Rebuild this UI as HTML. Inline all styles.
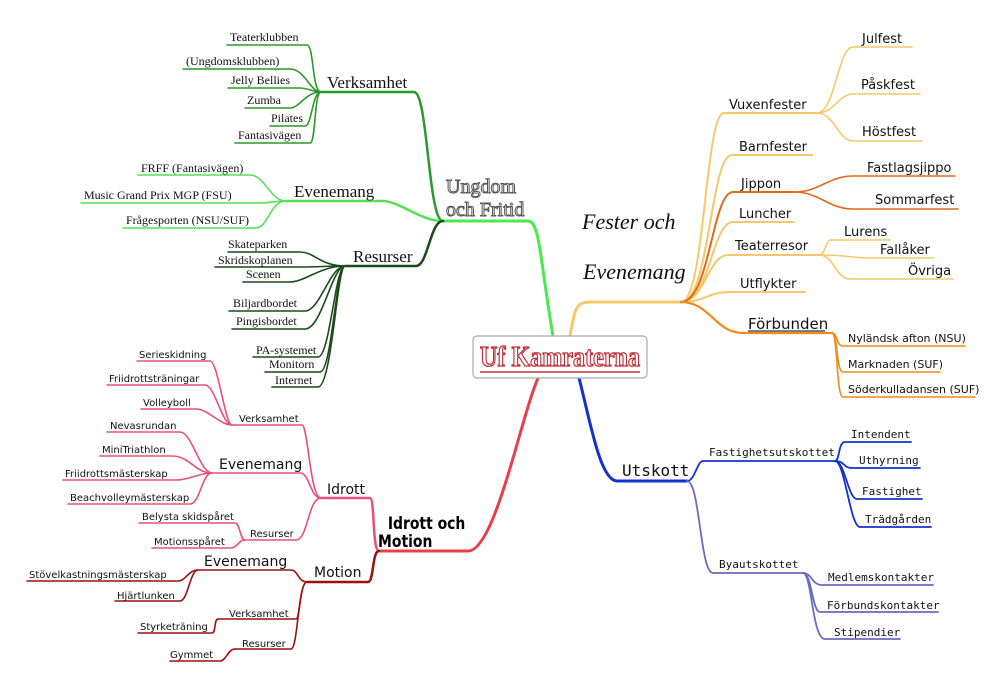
<!DOCTYPE html>
<html><head><meta charset="utf-8"><style>
html,body{margin:0;padding:0;background:#fff;}
svg{display:block}
.serif{font-family:"Liberation Serif",serif;}
.sans{font-family:"DejaVu Sans","Liberation Sans",sans-serif;}
.mono{font-family:"DejaVu Sans Mono","Liberation Mono",monospace;}
path{fill:none;stroke-linecap:round}
</style></head><body>
<svg width="1000" height="687" viewBox="0 0 1000 687" xmlns="http://www.w3.org/2000/svg">
<!-- GREEN -->
<g>
<path d="M553,336 C540,260 540,221 528,221 L443,221" stroke="#4de84d" stroke-width="3"/>
<path d="M443,221 C428,221 428,92 414,92 L321,92" stroke="#2a9a2a" stroke-width="2.5"/>
<g stroke="#2a9a2a" stroke-width="1.6">
<path d="M321,92 C312,92 314,45 307,45 L227,45"/>
<path d="M321,92 C310,92 305,69 290,69 L183,69"/>
<path d="M321,92 C312,92 308,88 300,88 L228,88"/>
<path d="M321,92 C305,92 300,108 290,108 L245,108"/>
<path d="M321,92 C312,92 312,126 305,126 L270,126"/>
<path d="M321,92 C314,92 316,143 310,143 L235,143"/>
</g>
<path d="M443,221 C420,221 400,201 382,201 L286,201" stroke="#55e055" stroke-width="2.5"/>
<g stroke="#55e055" stroke-width="1.6">
<path d="M286,201 C270,201 265,175 250,175 L138,175"/>
<path d="M286,201 C275,201 270,203 260,203 L81,203"/>
<path d="M286,201 C270,201 268,228 256,228 L123,228"/>
</g>
<path d="M443,221 C430,221 428,266 416,266 L345,266" stroke="#1a4a1a" stroke-width="2.5"/>
<g stroke="#1a4a1a" stroke-width="1.6">
<path d="M345,266 C320,266 315,252 300,252 L228,252"/>
<path d="M345,266 C325,266 320,267 300,267 L215,267"/>
<path d="M345,266 C320,266 305,282 290,282 L243,282"/>
<path d="M345,266 C330,266 320,311 305,311 L229,311"/>
<path d="M345,266 C332,266 322,329 305,329 L232,329"/>
<path d="M345,266 C335,266 330,357 318,357 L253,357"/>
<path d="M345,266 C336,266 332,372 320,372 L265,372"/>
<path d="M345,266 C337,266 332,387 318,387 L272,387"/>
</g>
<g class="serif" fill="#111" font-size="12">
<text x="230" y="41">Teaterklubben</text>
<text x="186" y="65">(Ungdomsklubben)</text>
<text x="231" y="84">Jelly Bellies</text>
<text x="247" y="104">Zumba</text>
<text x="271" y="122">Pilates</text>
<text x="238" y="139">Fantasivägen</text>
<text x="141" y="172">FRFF (Fantasivägen)</text>
<text x="84" y="199">Music Grand Prix MGP (FSU)</text>
<text x="126" y="224">Frågesporten (NSU/SUF)</text>
<text x="228" y="248">Skateparken</text>
<text x="218" y="264">Skridskoplanen</text>
<text x="246" y="278">Scenen</text>
<text x="233" y="307">Biljardbordet</text>
<text x="236" y="325">Pingisbordet</text>
<text x="256" y="354">PA-systemet</text>
<text x="269" y="368">Monitorn</text>
<text x="275" y="384">Internet</text>
<text x="327" y="88" font-size="17">Verksamhet</text>
<text x="294" y="197" font-size="17">Evenemang</text>
<text x="353" y="262" font-size="17">Resurser</text>
</g>
<g class="serif" font-size="20" fill="#fff" stroke="#555" stroke-width="1">
<text x="446" y="193">Ungdom</text>
<text x="446" y="216">och Fritid</text>
</g>
</g>
<!-- RED -->
<g>
<path d="M538,378 C520,420 495,551 468,551 L379,551" stroke="#e8404a" stroke-width="3"/>
<path d="M379,551 C372,551 375,498 370,498 L321,498" stroke="#e8507a" stroke-width="2.5"/>
<path d="M379,551 C372,551 374,582 368,582 L307,582" stroke="#9b1010" stroke-width="2.5"/>
<g stroke="#e8507a" stroke-width="1.6">
<path d="M321,498 C310,498 308,425 302,425 L232,425"/>
<path d="M232,425 C225,425 218,361 210,361 L137,361"/>
<path d="M232,425 C222,425 215,385 205,385 L107,385"/>
<path d="M232,425 C220,425 208,409 196,409 L141,409"/>
<path d="M321,498 C310,498 310,473 300,473 L212,473"/>
<path d="M212,473 C200,473 192,432 180,432 L107,432"/>
<path d="M212,473 C195,473 190,456 172,456 L100,456"/>
<path d="M212,473 C198,473 190,480 176,480 L63,480"/>
<path d="M212,473 C202,473 200,504 190,504 L68,504"/>
<path d="M321,498 C308,498 308,540 296,540 L245,540"/>
<path d="M245,540 C240,540 240,523 235,523 L139,523"/>
<path d="M245,540 C238,540 238,548 230,548 L152,548"/>
</g>
<g stroke="#9b1010" stroke-width="1.6">
<path d="M307,582 C298,582 298,570 291,570 L198,570"/>
<path d="M198,570 C188,570 186,581 178,581 L27,581"/>
<path d="M198,570 C190,570 188,601 180,601 L115,601"/>
<path d="M307,582 C300,582 300,619 296,619 L218,619"/>
<path d="M218,619 C214,619 216,633 212,633 L138,633"/>
<path d="M307,582 C298,582 298,649 291,649 L235,649"/>
<path d="M235,649 C228,649 226,661 220,661 L170,661"/>
</g>
<g class="sans" fill="#111" font-size="10">
<text x="139" y="358">Serieskidning</text>
<text x="109" y="382">Friidrottsträningar</text>
<text x="143" y="406">Volleyboll</text>
<text x="239" y="422">Verksamhet</text>
<text x="110" y="429">Nevasrundan</text>
<text x="102" y="453">MiniTriathlon</text>
<text x="65" y="477">Friidrottsmästerskap</text>
<text x="70" y="501">Beachvolleymästerskap</text>
<text x="142" y="520">Belysta skidspåret</text>
<text x="250" y="537">Resurser</text>
<text x="154" y="545">Motionsspåret</text>
<text x="29" y="578">Stövelkastningsmästerskap</text>
<text x="117" y="599">Hjärtlunken</text>
<text x="229" y="617">Verksamhet</text>
<text x="140" y="630">Styrketräning</text>
<text x="242" y="647">Resurser</text>
<text x="170" y="658">Gymmet</text>
<text x="219" y="469" font-size="14">Evenemang</text>
<text x="327" y="494" font-size="14">Idrott</text>
<text x="204" y="566" font-size="14">Evenemang</text>
<text x="314" y="577" font-size="14">Motion</text>
</g>
<g class="sans" fill="#000" font-size="17" font-weight="bold" transform="scale(0.82,1)">
<text x="473" y="529">Idrott och</text>
<text x="461" y="547">Motion</text>
</g>
</g>
<!-- ORANGE -->
<g>
<path d="M570,336 C575,310 575,302 590,302 L681,302" stroke="#f5c96a" stroke-width="3"/>
<g stroke="#f5c96a" stroke-width="2">
<path d="M681,302 C705,302 705,113 724,113 L817,113"/>
<path d="M681,302 C710,302 710,155 732,155 L812,155"/>
<path d="M681,302 C710,302 712,222 733,222 L794,222"/>
<path d="M681,302 C705,302 708,255 728,255 L819,255"/>
<path d="M681,302 C705,302 708,292 730,292 L805,292"/>
</g>
<g stroke="#f5c96a" stroke-width="1.6">
<path d="M817,113 C835,113 838,47 853,47 L912,47"/>
<path d="M817,113 C835,113 838,94 853,94 L920,94"/>
<path d="M817,113 C835,113 838,141 853,141 L922,141"/>
<path d="M819,255 C826,255 825,240 831,240 L890,240"/>
<path d="M819,255 C850,255 850,258 870,258 L934,258"/>
<path d="M819,255 C835,255 835,279 850,279 L953,279"/>
</g>
<path d="M681,302 C710,302 712,192 733,192 L794,192" stroke="#e06a1a" stroke-width="2"/>
<g stroke="#e06a1a" stroke-width="1.6">
<path d="M794,192 C820,192 828,176 853,176 L955,176"/>
<path d="M794,192 C820,192 828,209 853,209 L958,209"/>
</g>
<path d="M681,302 C710,302 715,333 743,333 L832,333" stroke="#f08a1a" stroke-width="2.2"/>
<g stroke="#f08a1a" stroke-width="1.6">
<path d="M832,333 C838,333 836,346 843,346 L965,346"/>
<path d="M832,333 C838,333 836,372 843,372 L940,372"/>
<path d="M832,333 C838,333 836,397 843,397 L975,397"/>
</g>
<g class="sans" fill="#111" font-size="13">
<text x="862" y="43">Julfest</text>
<text x="861" y="89">Påskfest</text>
<text x="862" y="136">Höstfest</text>
<text x="729" y="109">Vuxenfester</text>
<text x="739" y="151">Barnfester</text>
<text x="867" y="172">Fastlagsjippo</text>
<text x="741" y="188">Jippon</text>
<text x="875" y="204">Sommarfest</text>
<text x="739" y="218">Luncher</text>
<text x="844" y="236">Lurens</text>
<text x="735" y="250">Teaterresor</text>
<text x="880" y="254">Fallåker</text>
<text x="908" y="275">Övriga</text>
<text x="740" y="288">Utflykter</text>
<text x="748" y="329" font-size="15">Förbunden</text>
<text x="848" y="342" font-size="11">Nyländsk afton (NSU)</text>
<text x="848" y="368" font-size="11">Marknaden (SUF)</text>
<text x="848" y="393" font-size="11">Söderkulladansen (SUF)</text>
</g>
<line x1="748" y1="331" x2="825" y2="331" stroke="#555" stroke-width="1.5"/>
<g class="serif" font-style="italic" fill="#111" font-size="22">
<text x="582" y="229">Fester och</text>
<text x="583" y="279">Evenemang</text>
</g>
</g>
<!-- BLUE -->
<g>
<path d="M579,378 C590,420 600,481 617,481 L687,481" stroke="#1530d0" stroke-width="3"/>
<g stroke="#1530d0" stroke-width="1.8">
<path d="M687,481 C695,481 697,461 703,461 L835,461"/>
<path d="M835,461 C840,461 838,442 845,442 L911,442"/>
<path d="M835,461 C845,461 843,468 852,468 L920,468"/>
<path d="M835,461 C845,461 848,499 857,499 L922,499"/>
<path d="M835,461 C845,461 850,527 860,527 L931,527"/>
</g>
<g stroke="#6a6ac0" stroke-width="1.8">
<path d="M687,481 C700,481 700,573 713,573 L803,573"/>
<path d="M803,573 C812,573 812,585 822,585 L933,585"/>
<path d="M803,573 C812,573 812,612 820,612 L938,612"/>
<path d="M803,573 C812,573 812,639 825,639 L900,639"/>
</g>
<g class="mono" fill="#111" font-size="11">
<text x="709" y="456">Fastighetsutskottet</text>
<text x="851" y="438">Intendent</text>
<text x="859" y="464">Uthyrning</text>
<text x="862" y="495">Fastighet</text>
<text x="865" y="523">Trädgården</text>
<text x="719" y="568">Byautskottet</text>
<text x="828" y="581">Medlemskontakter</text>
<text x="827" y="609">Förbundskontakter</text>
<text x="834" y="636">Stipendier</text>
<text x="622" y="476" font-size="16">Utskott</text>
</g>
</g>
<!-- CENTER -->
<rect x="473" y="336" width="174" height="42" rx="4" fill="#fff" stroke="#aaa" stroke-width="1.2"/>
<text x="560" y="366" text-anchor="middle" class="serif" font-weight="bold" font-size="28" fill="#fff" stroke="#c0303a" stroke-width="1.3" textLength="160" lengthAdjust="spacingAndGlyphs">Uf Kamraterna</text>
<line x1="480" y1="372" x2="640" y2="372" stroke="#c0303a" stroke-width="1.5"/>
</svg>
</body></html>
